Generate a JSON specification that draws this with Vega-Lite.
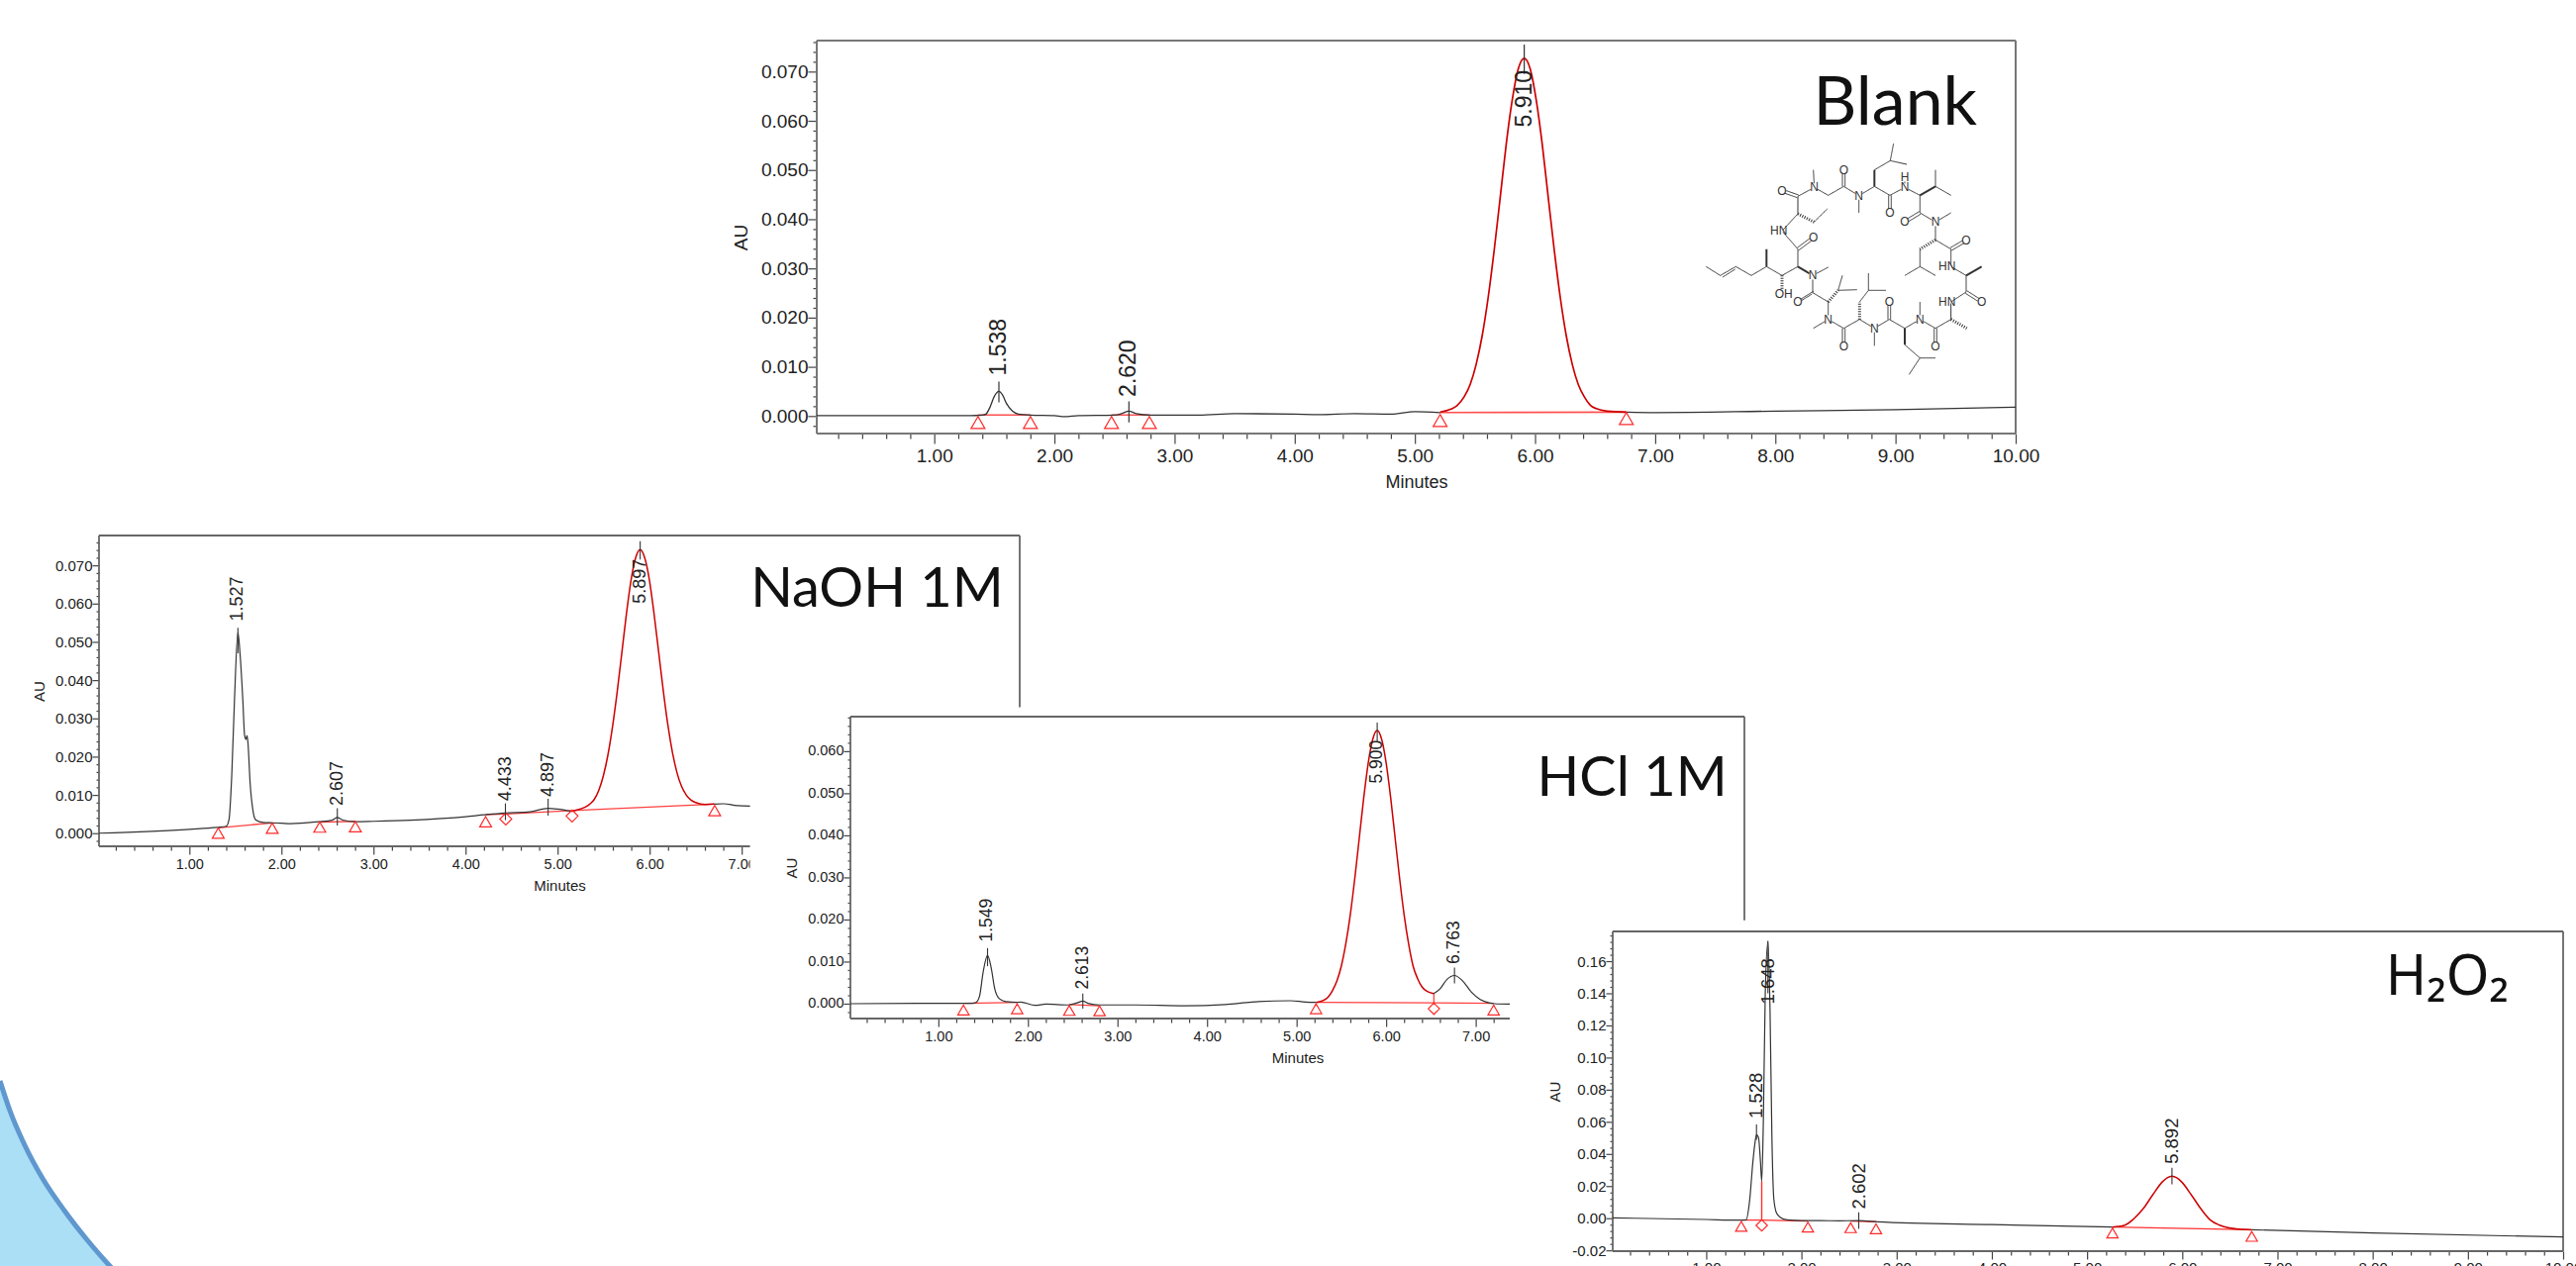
{
"$schema":"https://vega.github.io/schema/vega-lite/v6.json",
"width":2602,"height":1279,"padding":0,"autosize":{"type":"none"},"background":"white",
"config":{"view":{"stroke":null},"axis":{"grid":false,"domain":false,"labelFont":"Liberation Sans","titleFont":"Liberation Sans","titleFontWeight":"normal","labelColor":"#222","titleColor":"#222","tickColor":"#444","tickWidth":1.2,"labelOverlap":false,"labelBound":false,"labelFlush":false,"tickRound":false}},
"datasets":{
"blob":[{"bx":0,"by":1092,"bb":1300},{"bx":10,"by":1122,"bb":1300},{"bx":25,"by":1157,"bb":1300},{"bx":43.3,"by":1191,"bb":1300},{"bx":65,"by":1223,"bb":1300},{"bx":88.3,"by":1253,"bb":1300},{"bx":110,"by":1278,"bb":1300},{"bx":122,"by":1291,"bb":1300}],
"blank_frame":[{"t":0.022,"t2":10,"au":0.0763,"au2":0.0763},{"t":10,"t2":10,"au":0.0763,"au2":-0.00356},{"t":0.022,"t2":10,"au":-0.00356,"au2":-0.00356},{"t":0.022,"t2":0.022,"au":0.0763,"au2":-0.00356}],
"blank_line":[{"t":0.022,"au":0.0001,"seg":"a"},{"t":1.3,"au":0.0001,"seg":"a"},{"t":1.4,"au":0.0002,"seg":"a"},{"t":1.43,"au":0.0004,"seg":"a"},{"t":1.46,"au":0.0016,"seg":"a"},{"t":1.5,"au":0.004,"seg":"a"},{"t":1.538,"au":0.005,"seg":"a"},{"t":1.57,"au":0.0042,"seg":"a"},{"t":1.6,"au":0.0026,"seg":"a"},{"t":1.65,"au":0.001,"seg":"a"},{"t":1.7,"au":0.0004,"seg":"a"},{"t":1.8,"au":0.0002,"seg":"a"},{"t":2.0,"au":0.0001,"seg":"a"},{"t":2.08,"au":-0.0001,"seg":"a"},{"t":2.2,"au":0.0001,"seg":"a"},{"t":2.5,"au":0.0002,"seg":"a"},{"t":2.56,"au":0.0005,"seg":"a"},{"t":2.62,"au":0.001,"seg":"a"},{"t":2.68,"au":0.0005,"seg":"a"},{"t":2.8,"au":0.0002,"seg":"a"},{"t":3.2,"au":0.0002,"seg":"a"},{"t":3.5,"au":0.0005,"seg":"a"},{"t":4.0,"au":0.0004,"seg":"a"},{"t":4.2,"au":0.0003,"seg":"a"},{"t":4.5,"au":0.0005,"seg":"a"},{"t":4.8,"au":0.0004,"seg":"a"},{"t":5.0,"au":0.0009,"seg":"a"},{"t":5.21,"au":0.0007,"seg":"a"},{"t":6.76,"au":0.0008,"seg":"b"},{"t":7.0,"au":0.0007,"seg":"b"},{"t":8.0,"au":0.001,"seg":"b"},{"t":9.0,"au":0.0013,"seg":"b"},{"t":10,"au":0.0018,"seg":"b"}],
"blank_red":[{"t":5.21,"au":0.0008},{"t":5.3,"au":0.0014},{"t":5.35,"au":0.0021},{"t":5.41,"au":0.0039},{"t":5.46,"au":0.0064},{"t":5.51,"au":0.0105},{"t":5.56,"au":0.0163},{"t":5.61,"au":0.0241},{"t":5.66,"au":0.0337},{"t":5.71,"au":0.0444},{"t":5.76,"au":0.0552},{"t":5.81,"au":0.0642},{"t":5.86,"au":0.0705},{"t":5.91,"au":0.0727},{"t":5.96,"au":0.0705},{"t":6.01,"au":0.0642},{"t":6.06,"au":0.0552},{"t":6.11,"au":0.0444},{"t":6.16,"au":0.0337},{"t":6.21,"au":0.0241},{"t":6.26,"au":0.0163},{"t":6.31,"au":0.0105},{"t":6.36,"au":0.0064},{"t":6.41,"au":0.0039},{"t":6.46,"au":0.0022},{"t":6.51,"au":0.0015},{"t":6.6,"au":0.001},{"t":6.76,"au":0.0008}],
"blank_base":[{"t":1.364,"au":0.0002,"seg":"a"},{"t":1.8,"au":0.0002,"seg":"a"},{"t":2.475,"au":0.0002,"seg":"b"},{"t":2.79,"au":0.0002,"seg":"b"},{"t":5.21,"au":0.0007,"seg":"c"},{"t":6.76,"au":0.0008,"seg":"c"}],
"blank_marks":[{"t":1.364,"au":-0.0013,"kind":"start"},{"t":1.8,"au":-0.0013,"kind":"start"},{"t":2.475,"au":-0.0013,"kind":"start"},{"t":2.79,"au":-0.0013,"kind":"start"},{"t":5.21,"au":-0.0009,"kind":"start"},{"t":6.76,"au":-0.0005,"kind":"start"}],
"blank_peaks":[{"t":1.538,"au":0.007,"au2":0.0028},{"t":2.62,"au":0.003,"au2":-0.0013},{"t":5.91,"au":0.0755,"au2":0.0695}],
"blank_labels":[{"t":1.538,"au":0.0082,"label":"1.538"},{"t":2.62,"au":0.0039,"label":"2.620"},{"t":5.91,"au":0.0587,"label":"5.910"}],
"blank_name":[{"t":9.68,"au":0.0592,"label":"Blank"}],
"naoh_frame":[{"t":0.018,"t2":10.02,"au":0.0778,"au2":0.0778},{"t":10.02,"t2":10.02,"au":0.0778,"au2":0.0329},{"t":0.018,"t2":7.09,"au":-0.00343,"au2":-0.00343},{"t":0.018,"t2":0.018,"au":0.0778,"au2":-0.00343}],
"naoh_mask":[{"t":7.09,"t2":7.35,"au":-0.0036,"au2":-0.0115}],
"naoh_line":[{"t":0.018,"au":0,"seg":"a"},{"t":1.0,"au":0.001,"seg":"a"},{"t":1.3,"au":0.0015,"seg":"a"},{"t":1.4,"au":0.0018,"seg":"a"},{"t":1.43,"au":0.0035,"seg":"a"},{"t":1.46,"au":0.015,"seg":"a"},{"t":1.49,"au":0.035,"seg":"a"},{"t":1.527,"au":0.0525,"seg":"a"},{"t":1.55,"au":0.047,"seg":"a"},{"t":1.58,"au":0.035,"seg":"a"},{"t":1.6,"au":0.0255,"seg":"a"},{"t":1.615,"au":0.0245,"seg":"a"},{"t":1.625,"au":0.0255,"seg":"a"},{"t":1.635,"au":0.024,"seg":"a"},{"t":1.66,"au":0.013,"seg":"a"},{"t":1.69,"au":0.006,"seg":"a"},{"t":1.72,"au":0.0035,"seg":"a"},{"t":1.8,"au":0.0028,"seg":"a"},{"t":1.9,"au":0.0027,"seg":"a"},{"t":2.0,"au":0.0026,"seg":"a"},{"t":2.1,"au":0.0025,"seg":"a"},{"t":2.4,"au":0.003,"seg":"a"},{"t":2.55,"au":0.0034,"seg":"a"},{"t":2.607,"au":0.0041,"seg":"a"},{"t":2.66,"au":0.0035,"seg":"a"},{"t":2.8,"au":0.003,"seg":"a"},{"t":3.0,"au":0.0031,"seg":"a"},{"t":3.4,"au":0.0034,"seg":"a"},{"t":4.0,"au":0.0043,"seg":"a"},{"t":4.2,"au":0.0048,"seg":"a"},{"t":4.433,"au":0.0053,"seg":"a"},{"t":4.7,"au":0.0056,"seg":"a"},{"t":4.897,"au":0.0065,"seg":"a"},{"t":5.0,"au":0.0063,"seg":"a"},{"t":5.15,"au":0.0057,"seg":"a"},{"t":6.7,"au":0.0076,"seg":"b"},{"t":6.8,"au":0.0077,"seg":"b"},{"t":6.95,"au":0.0072,"seg":"b"},{"t":7.09,"au":0.0071,"seg":"b"}],
"naoh_red":[{"t":5.15,"au":0.0057},{"t":5.2,"au":0.006},{"t":5.3,"au":0.0068},{"t":5.35,"au":0.0076},{"t":5.397,"au":0.0088},{"t":5.447,"au":0.0112},{"t":5.497,"au":0.015},{"t":5.547,"au":0.0205},{"t":5.597,"au":0.0279},{"t":5.647,"au":0.0369},{"t":5.697,"au":0.047},{"t":5.747,"au":0.0572},{"t":5.797,"au":0.066},{"t":5.847,"au":0.0719},{"t":5.897,"au":0.0741},{"t":5.947,"au":0.0719},{"t":5.997,"au":0.0662},{"t":6.047,"au":0.0575},{"t":6.097,"au":0.0475},{"t":6.147,"au":0.0374},{"t":6.197,"au":0.0284},{"t":6.247,"au":0.0212},{"t":6.297,"au":0.0158},{"t":6.347,"au":0.0122},{"t":6.397,"au":0.01},{"t":6.447,"au":0.0087},{"t":6.5,"au":0.008},{"t":6.6,"au":0.0075},{"t":6.7,"au":0.0076}],
"naoh_base":[{"t":1.313,"au":0.0014,"seg":"a"},{"t":1.9,"au":0.0027,"seg":"a"},{"t":2.416,"au":0.0029,"seg":"b"},{"t":2.803,"au":0.0031,"seg":"b"},{"t":4.218,"au":0.0048,"seg":"c"},{"t":4.437,"au":0.005,"seg":"c"},{"t":5.157,"au":0.0059,"seg":"c"},{"t":6.706,"au":0.0076,"seg":"c"}],
"naoh_marks":[{"t":1.313,"au":0,"kind":"start"},{"t":1.9,"au":0.0013,"kind":"start"},{"t":2.416,"au":0.0016,"kind":"start"},{"t":2.803,"au":0.0017,"kind":"start"},{"t":4.218,"au":0.003,"kind":"start"},{"t":4.437,"au":0.0037,"kind":"valley"},{"t":5.157,"au":0.0045,"kind":"valley"},{"t":6.706,"au":0.0059,"kind":"start"}],
"naoh_peaks":[{"t":1.527,"au":0.0537,"au2":0.047},{"t":2.607,"au":0.0065,"au2":0.002},{"t":4.433,"au":0.0078,"au2":0.0034},{"t":4.897,"au":0.009,"au2":0.0046},{"t":5.897,"au":0.0763,"au2":0.0715}],
"naoh_labels":[{"t":1.527,"au":0.0554,"label":"1.527"},{"t":2.607,"au":0.0072,"label":"2.607"},{"t":4.433,"au":0.0084,"label":"4.433"},{"t":4.897,"au":0.0095,"label":"4.897"},{"t":5.897,"au":0.06,"label":"5.897"}],
"naoh_name":[{"t":9.845,"au":0.0591,"label":"NaOH 1M"}],
"hcl_frame":[{"t":0.018,"t2":10,"au":0.0682,"au2":0.0682},{"t":10,"t2":10,"au":0.0682,"au2":0.0198},{"t":0.018,"t2":7.38,"au":-0.00353,"au2":-0.00353},{"t":0.018,"t2":0.018,"au":0.0682,"au2":-0.00353}],
"hcl_line":[{"t":0.018,"au":0,"seg":"a"},{"t":1.0,"au":0.0001,"seg":"a"},{"t":1.38,"au":0.0001,"seg":"a"},{"t":1.42,"au":0.0003,"seg":"a"},{"t":1.46,"au":0.0018,"seg":"a"},{"t":1.5,"au":0.0075,"seg":"a"},{"t":1.549,"au":0.0115,"seg":"a"},{"t":1.59,"au":0.0085,"seg":"a"},{"t":1.63,"au":0.0035,"seg":"a"},{"t":1.68,"au":0.0012,"seg":"a"},{"t":1.75,"au":0.0005,"seg":"a"},{"t":1.88,"au":0.0003,"seg":"a"},{"t":1.92,"au":0.0004,"seg":"a"},{"t":2.08,"au":-0.0004,"seg":"a"},{"t":2.2,"au":-0.0001,"seg":"a"},{"t":2.45,"au":-0.0003,"seg":"a"},{"t":2.55,"au":0.0002,"seg":"a"},{"t":2.613,"au":0.0006,"seg":"a"},{"t":2.67,"au":0.0001,"seg":"a"},{"t":2.8,"au":-0.0003,"seg":"a"},{"t":3.2,"au":-0.0003,"seg":"a"},{"t":3.75,"au":-0.0005,"seg":"a"},{"t":4.2,"au":-0.0002,"seg":"a"},{"t":4.5,"au":0.0004,"seg":"a"},{"t":4.93,"au":0.0007,"seg":"a"},{"t":5.1,"au":0.0004,"seg":"a"},{"t":5.22,"au":0.0003,"seg":"a"},{"t":6.53,"au":0.0024,"seg":"b"},{"t":6.6,"au":0.0035,"seg":"b"},{"t":6.68,"au":0.0058,"seg":"b"},{"t":6.763,"au":0.0067,"seg":"b"},{"t":6.85,"au":0.0055,"seg":"b"},{"t":6.95,"au":0.0028,"seg":"b"},{"t":7.05,"au":0.001,"seg":"b"},{"t":7.15,"au":0.0002,"seg":"b"},{"t":7.21,"au":0,"seg":"b"},{"t":7.38,"au":-0.0001,"seg":"b"}],
"hcl_red":[{"t":5.22,"au":0.0003},{"t":5.3,"au":0.0008},{"t":5.35,"au":0.0015},{"t":5.4,"au":0.0031},{"t":5.45,"au":0.0054},{"t":5.5,"au":0.009},{"t":5.55,"au":0.0143},{"t":5.6,"au":0.0212},{"t":5.65,"au":0.0298},{"t":5.7,"au":0.0394},{"t":5.75,"au":0.049},{"t":5.8,"au":0.0572},{"t":5.85,"au":0.0628},{"t":5.9,"au":0.0649},{"t":5.95,"au":0.0628},{"t":6.0,"au":0.0572},{"t":6.05,"au":0.049},{"t":6.1,"au":0.0394},{"t":6.15,"au":0.0298},{"t":6.2,"au":0.0212},{"t":6.25,"au":0.0143},{"t":6.3,"au":0.009},{"t":6.35,"au":0.006},{"t":6.4,"au":0.004},{"t":6.45,"au":0.003},{"t":6.53,"au":0.0024}],
"hcl_base":[{"t":1.28,"au":0.0001,"seg":"a"},{"t":1.88,"au":0.0003,"seg":"a"},{"t":2.462,"au":-0.0002,"seg":"b"},{"t":2.8,"au":-0.0005,"seg":"b"},{"t":5.217,"au":0.0003,"seg":"c"},{"t":6.533,"au":0.0002,"seg":"c"},{"t":7.2,"au":0.0001,"seg":"c"},{"t":6.533,"au":0.0002,"seg":"d"},{"t":6.533,"au":0.0024,"seg":"d"}],
"hcl_marks":[{"t":1.28,"au":-0.0015,"kind":"start"},{"t":1.88,"au":-0.0012,"kind":"start"},{"t":2.462,"au":-0.0016,"kind":"start"},{"t":2.8,"au":-0.0017,"kind":"start"},{"t":5.217,"au":-0.0012,"kind":"start"},{"t":6.533,"au":-0.0012,"kind":"valley"},{"t":7.2,"au":-0.0015,"kind":"start"}],
"hcl_peaks":[{"t":1.549,"au":0.0132,"au2":0.0089},{"t":2.613,"au":0.0024,"au2":-0.0012},{"t":5.9,"au":0.0668,"au2":0.0621},{"t":6.763,"au":0.0086,"au2":0.0048}],
"hcl_labels":[{"t":1.549,"au":0.0147,"label":"1.549"},{"t":2.613,"au":0.0034,"label":"2.613"},{"t":5.9,"au":0.0523,"label":"5.900"},{"t":6.763,"au":0.0094,"label":"6.763"}],
"hcl_name":[{"t":9.81,"au":0.0494,"label":"HCl 1M"}],
"h2o2_frame":[{"t":0.018,"t2":10,"au":0.1785,"au2":0.1785},{"t":10,"t2":10,"au":0.1785,"au2":-0.0205},{"t":0.018,"t2":10,"au":-0.0205,"au2":-0.0205},{"t":0.018,"t2":0.018,"au":0.1785,"au2":-0.0205}],
"h2o2_line":[{"t":0.018,"au":0.0002,"seg":"a"},{"t":1.0,"au":-0.0008,"seg":"a"},{"t":1.33,"au":-0.0012,"seg":"a"},{"t":1.419,"au":-0.001,"seg":"a"},{"t":1.456,"au":0.011,"seg":"a"},{"t":1.49,"au":0.035,"seg":"a"},{"t":1.51,"au":0.046,"seg":"a"},{"t":1.528,"au":0.052,"seg":"a"},{"t":1.55,"au":0.05,"seg":"a"},{"t":1.57,"au":0.035,"seg":"a"},{"t":1.583,"au":0.023,"seg":"a"},{"t":1.6,"au":0.06,"seg":"a"},{"t":1.62,"au":0.14,"seg":"a"},{"t":1.648,"au":0.172,"seg":"a"},{"t":1.67,"au":0.13,"seg":"a"},{"t":1.69,"au":0.05,"seg":"a"},{"t":1.71,"au":0.012,"seg":"a"},{"t":1.74,"au":0.003,"seg":"a"},{"t":1.78,"au":0.0005,"seg":"a"},{"t":1.85,"au":-0.001,"seg":"a"},{"t":2.0,"au":-0.0015,"seg":"a"},{"t":2.2,"au":-0.0015,"seg":"a"},{"t":2.4,"au":-0.0016,"seg":"a"},{"t":2.602,"au":-0.0015,"seg":"a"},{"t":2.8,"au":-0.0022,"seg":"a"},{"t":4.0,"au":-0.004,"seg":"a"},{"t":5.0,"au":-0.0052,"seg":"a"},{"t":5.267,"au":-0.0055,"seg":"a"},{"t":6.73,"au":-0.0072,"seg":"b"},{"t":8.0,"au":-0.0092,"seg":"b"},{"t":10,"au":-0.0117,"seg":"b"}],
"h2o2_red":[{"t":5.267,"au":-0.0055},{"t":5.39,"au":-0.0045},{"t":5.492,"au":-0.0003},{"t":5.592,"au":0.0061},{"t":5.692,"au":0.0148},{"t":5.792,"au":0.0227},{"t":5.842,"au":0.0252},{"t":5.892,"au":0.0262},{"t":5.942,"au":0.0252},{"t":5.992,"au":0.0227},{"t":6.092,"au":0.0148},{"t":6.192,"au":0.0061},{"t":6.292,"au":-0.001},{"t":6.392,"au":-0.0043},{"t":6.492,"au":-0.006},{"t":6.6,"au":-0.0068},{"t":6.73,"au":-0.0072}],
"h2o2_base":[{"t":1.368,"au":-0.0012,"seg":"a"},{"t":1.583,"au":-0.0012,"seg":"a"},{"t":2.068,"au":-0.0018,"seg":"a"},{"t":1.583,"au":-0.0012,"seg":"d"},{"t":1.583,"au":0.023,"seg":"d"},{"t":2.517,"au":-0.0018,"seg":"b"},{"t":2.783,"au":-0.0022,"seg":"b"},{"t":5.267,"au":-0.0055,"seg":"c"},{"t":6.73,"au":-0.0072,"seg":"c"}],
"h2o2_marks":[{"t":1.368,"au":-0.0051,"kind":"start"},{"t":1.583,"au":-0.0045,"kind":"valley"},{"t":2.068,"au":-0.0055,"kind":"start"},{"t":2.517,"au":-0.0059,"kind":"start"},{"t":2.783,"au":-0.0066,"kind":"start"},{"t":5.267,"au":-0.0092,"kind":"start"},{"t":6.73,"au":-0.0113,"kind":"start"}],
"h2o2_peaks":[{"t":1.528,"au":0.0584,"au2":0.0488},{"t":1.648,"au":0.1727,"au2":0.14},{"t":2.602,"au":0.0037,"au2":-0.0066},{"t":5.892,"au":0.0314,"au2":0.0211}],
"h2o2_labels":[{"t":1.528,"au":0.0621,"label":"1.528"},{"t":1.648,"au":0.1332,"label":"1.648"},{"t":2.602,"au":0.0057,"label":"2.602"},{"t":5.892,"au":0.0338,"label":"5.892"}],
"h2o2_name":[{"t":9.43,"au":0.139,"label":"H₂O₂"}],
"bonds":[
{"x":398,"y":178,"x2":395,"y2":125,"kind":"single"},{"x":398,"y":178,"x2":440,"y2":202,"kind":"single"},{"x":440,"y":202,"x2":487,"y2":175,"kind":"single"},{"x":483,"y":175,"x2":483,"y2":125,"kind":"single"},{"x":491,"y":175,"x2":491,"y2":125,"kind":"single"},{"x":487,"y":175,"x2":533,"y2":203,"kind":"single"},{"x":533,"y":203,"x2":533,"y2":255,"kind":"single"},{"x":533,"y":203,"x2":580,"y2":175,"kind":"single"},{"x":580,"y":175,"x2":580,"y2":125,"kind":"bold"},{"x":580,"y":125,"x2":628,"y2":97,"kind":"single"},{"x":628,"y":97,"x2":638,"y2":45,"kind":"single"},{"x":628,"y":97,"x2":678,"y2":108,"kind":"single"},{"x":580,"y":175,"x2":627,"y2":202,"kind":"single"},{"x":623,"y":202,"x2":623,"y2":255,"kind":"single"},{"x":631,"y":202,"x2":631,"y2":255,"kind":"single"},{"x":627,"y":202,"x2":672,"y2":178,"kind":"single"},{"x":672,"y":178,"x2":672,"y2":148,"kind":"single"},{"x":672,"y":178,"x2":718,"y2":202,"kind":"single"},{"x":718,"y":202,"x2":765,"y2":175,"kind":"bold"},{"x":765,"y":175,"x2":765,"y2":125,"kind":"single"},{"x":765,"y":175,"x2":812,"y2":202,"kind":"single"},{"x":718,"y":202,"x2":718,"y2":255,"kind":"single"},{"x":716,"y":251,"x2":670,"y2":279,"kind":"single"},{"x":720,"y":259,"x2":674,"y2":287,"kind":"single"},{"x":718,"y":255,"x2":765,"y2":283,"kind":"single"},{"x":765,"y":283,"x2":812,"y2":255,"kind":"single"},{"x":765,"y":283,"x2":765,"y2":337,"kind":"single"},{"x":765,"y":337,"x2":718,"y2":365,"kind":"hash"},{"x":718,"y":365,"x2":718,"y2":418,"kind":"single"},{"x":718,"y":418,"x2":672,"y2":445,"kind":"single"},{"x":718,"y":418,"x2":765,"y2":445,"kind":"single"},{"x":765,"y":337,"x2":812,"y2":365,"kind":"single"},{"x":810,"y":361,"x2":856,"y2":334,"kind":"single"},{"x":814,"y":369,"x2":860,"y2":342,"kind":"single"},{"x":812,"y":365,"x2":812,"y2":418,"kind":"single"},{"x":812,"y":418,"x2":858,"y2":445,"kind":"single"},{"x":858,"y":445,"x2":905,"y2":418,"kind":"bold"},{"x":858,"y":445,"x2":858,"y2":495,"kind":"single"},{"x":860,"y":491,"x2":907,"y2":521,"kind":"single"},{"x":856,"y":499,"x2":903,"y2":529,"kind":"single"},{"x":858,"y":495,"x2":812,"y2":525,"kind":"single"},{"x":812,"y":525,"x2":812,"y2":578,"kind":"single"},{"x":812,"y":578,"x2":860,"y2":605,"kind":"hash"},{"x":812,"y":578,"x2":765,"y2":605,"kind":"single"},{"x":761,"y":605,"x2":761,"y2":660,"kind":"single"},{"x":769,"y":605,"x2":769,"y2":660,"kind":"single"},{"x":765,"y":605,"x2":718,"y2":578,"kind":"single"},{"x":718,"y":578,"x2":718,"y2":525,"kind":"single"},{"x":718,"y":578,"x2":672,"y2":605,"kind":"single"},{"x":672,"y":605,"x2":672,"y2":655,"kind":"bold"},{"x":672,"y":655,"x2":718,"y2":695,"kind":"single"},{"x":718,"y":695,"x2":765,"y2":695,"kind":"single"},{"x":718,"y":695,"x2":685,"y2":745,"kind":"single"},{"x":672,"y":605,"x2":625,"y2":578,"kind":"single"},{"x":621,"y":578,"x2":621,"y2":525,"kind":"single"},{"x":629,"y":578,"x2":629,"y2":525,"kind":"single"},{"x":625,"y":578,"x2":580,"y2":605,"kind":"single"},{"x":580,"y":605,"x2":580,"y2":658,"kind":"single"},{"x":580,"y":605,"x2":535,"y2":578,"kind":"single"},{"x":535,"y":578,"x2":535,"y2":525,"kind":"hash"},{"x":535,"y":525,"x2":562,"y2":490,"kind":"single"},{"x":562,"y":490,"x2":562,"y2":438,"kind":"single"},{"x":562,"y":490,"x2":615,"y2":490,"kind":"single"},{"x":535,"y":578,"x2":487,"y2":605,"kind":"single"},{"x":483,"y":605,"x2":483,"y2":660,"kind":"single"},{"x":491,"y":605,"x2":491,"y2":660,"kind":"single"},{"x":487,"y":605,"x2":440,"y2":578,"kind":"single"},{"x":440,"y":578,"x2":395,"y2":605,"kind":"single"},{"x":440,"y":578,"x2":440,"y2":525,"kind":"single"},{"x":440,"y":525,"x2":470,"y2":490,"kind":"hash"},{"x":470,"y":490,"x2":483,"y2":445,"kind":"single"},{"x":470,"y":490,"x2":527,"y2":488,"kind":"single"},{"x":440,"y":525,"x2":393,"y2":497,"kind":"single"},{"x":395,"y":493,"x2":350,"y2":521,"kind":"single"},{"x":391,"y":501,"x2":346,"y2":529,"kind":"single"},{"x":393,"y":497,"x2":393,"y2":445,"kind":"single"},{"x":393,"y":445,"x2":440,"y2":420,"kind":"single"},{"x":393,"y":445,"x2":348,"y2":418,"kind":"bold"},{"x":348,"y":418,"x2":300,"y2":445,"kind":"single"},{"x":300,"y":445,"x2":300,"y2":497,"kind":"hash"},{"x":300,"y":445,"x2":253,"y2":418,"kind":"single"},{"x":253,"y":418,"x2":253,"y2":365,"kind":"bold"},{"x":253,"y":418,"x2":207,"y2":445,"kind":"single"},{"x":207,"y":445,"x2":160,"y2":418,"kind":"single"},{"x":160,"y":418,"x2":113,"y2":445,"kind":"single"},{"x":158,"y":426,"x2":120,"y2":450,"kind":"single"},{"x":113,"y":445,"x2":70,"y2":418,"kind":"single"},{"x":348,"y":418,"x2":348,"y2":365,"kind":"single"},{"x":346,"y":361,"x2":393,"y2":326,"kind":"single"},{"x":350,"y":369,"x2":397,"y2":334,"kind":"single"},{"x":348,"y":365,"x2":300,"y2":310,"kind":"single"},{"x":300,"y":310,"x2":348,"y2":258,"kind":"single"},{"x":348,"y":258,"x2":397,"y2":283,"kind":"hash"},{"x":397,"y":283,"x2":437,"y2":243,"kind":"single"},{"x":348,"y":258,"x2":348,"y2":205,"kind":"single"},{"x":346,"y":209,"x2":298,"y2":192,"kind":"single"},{"x":350,"y":201,"x2":302,"y2":184,"kind":"single"},{"x":348,"y":205,"x2":398,"y2":178,"kind":"single"}],
"atoms":[{"x":398,"y":178,"atom":"N"},{"x":533,"y":203,"atom":"N"},{"x":672,"y":178,"atom":"N"},{"x":672,"y":148,"atom":"H"},{"x":765,"y":283,"atom":"N"},{"x":800,"y":418,"atom":"HN"},{"x":800,"y":525,"atom":"HN"},{"x":718,"y":578,"atom":"N"},{"x":580,"y":605,"atom":"N"},{"x":440,"y":578,"atom":"N"},{"x":393,"y":445,"atom":"N"},{"x":305,"y":500,"atom":"OH"},{"x":290,"y":310,"atom":"HN"},{"x":487,"y":125,"atom":"O"},{"x":627,"y":255,"atom":"O"},{"x":672,"y":283,"atom":"O"},{"x":858,"y":338,"atom":"O"},{"x":905,"y":525,"atom":"O"},{"x":765,"y":660,"atom":"O"},{"x":625,"y":525,"atom":"O"},{"x":487,"y":660,"atom":"O"},{"x":348,"y":525,"atom":"O"},{"x":395,"y":330,"atom":"O"},{"x":300,"y":188,"atom":"O"}]
},
"resolve":{"scale":{"x":"independent","y":"independent"},"axis":{"x":"independent","y":"independent"}},
"layer":[
{"encoding":{"x":{"field":"bx","type":"quantitative","axis":null,"scale":{"domain":[0,200],"range":[0,200]}},"y":{"field":"by","type":"quantitative","axis":null,"scale":{"domain":[1060,1279],"range":[1060,1279]}}},
"layer":[
{"data":{"name":"blob"},"mark":{"type":"area","color":"#ABDFF5","interpolate":"monotone"},"encoding":{"y2":{"field":"bb"}}},
{"data":{"name":"blob"},"mark":{"type":"line","color":"#5F97CF","strokeWidth":5,"interpolate":"monotone"},"encoding":{}}
]},
{"encoding":{
"x":{"field":"t","type":"quantitative","scale":{"domain":[0.022,10],"range":[825,2036]},"axis":{"orient":"bottom","offset":-841,"title":"Minutes","titleFontSize":18,"titlePadding":8,"labelFontSize":19,"labelPadding":3,"values":[0.2,0.4,0.6,0.8,1,1.2,1.4,1.6,1.8,2,2.2,2.4,2.6,2.8,3,3.2,3.4,3.6,3.8,4,4.2,4.4,4.6,4.8,5,5.2,5.4,5.6,5.8,6,6.2,6.4,6.6,6.8,7,7.2,7.4,7.6,7.8,8,8.2,8.4,8.6,8.8,9,9.2,9.4,9.6,9.8,10],"tickSize":{"condition":{"test":"abs(datum.value-round(datum.value))<0.001","value":10},"value":5},"labelExpr":"abs(datum.value-round(datum.value))<0.001 ? format(datum.value,'.2f') : ''"}},
"y":{"field":"au","type":"quantitative","scale":{"domain":[-0.00356,0.0763],"range":[438,41]},"axis":{"orient":"left","offset":-825,"title":"AU","titleFontSize":19,"titlePadding":10,"labelFontSize":19,"labelPadding":0,"values":[-0.002,0,0.002,0.004,0.006,0.008,0.01,0.012,0.014,0.016,0.018,0.02,0.022,0.024,0.026,0.028,0.03,0.032,0.034,0.036,0.038,0.04,0.042,0.044,0.046,0.048,0.05,0.052,0.054,0.056,0.058,0.06,0.062,0.064,0.066,0.068,0.07,0.072,0.074,0.076],"tickSize":{"condition":{"test":"abs(datum.value*100-round(datum.value*100))<0.001","value":9},"value":4},"labelExpr":"abs(datum.value*100-round(datum.value*100))<0.001 ? format(datum.value,'.3f') : ''"}}},
"layer":[
{"data":{"name":"blank_frame"},"mark":{"type":"rule","color":"#777","strokeWidth":2},"encoding":{"x2":{"field":"t2"},"y2":{"field":"au2"}}},
{"data":{"name":"blank_base"},"mark":{"type":"line","color":"#ff5050","strokeWidth":1.6},"encoding":{"detail":{"field":"seg"}}},
{"data":{"name":"blank_line"},"mark":{"type":"line","color":"#333","strokeWidth":1.3,"interpolate":"monotone"},"encoding":{"detail":{"field":"seg"}}},
{"data":{"name":"blank_red"},"mark":{"type":"line","color":"#cc0000","strokeWidth":1.7,"interpolate":"monotone"},"encoding":{}},
{"data":{"name":"blank_marks"},"mark":{"type":"point","filled":false,"stroke":"#ff2a2a","strokeWidth":1.2,"size":196,"opacity":1},"encoding":{"shape":{"field":"kind","type":"nominal","legend":null,"scale":{"domain":["start","valley"],"range":["triangle-up","diamond"]}}}},
{"data":{"name":"blank_peaks"},"mark":{"type":"rule","color":"#333","strokeWidth":1.2},"encoding":{"y2":{"field":"au2"}}},
{"data":{"name":"blank_labels"},"mark":{"type":"text","angle":270,"align":"left","baseline":"middle","font":"Liberation Sans","fontSize":23,"color":"#222"},"encoding":{"text":{"field":"label"}}},
{"data":{"name":"blank_name"},"mark":{"type":"text","align":"right","baseline":"alphabetic","font":"Lato","fontSize":68,"color":"#111"},"encoding":{"text":{"field":"label"}}}
]},
{"encoding":{"x":{"field":"x","type":"quantitative","axis":null,"scale":{"domain":[0,1020],"range":[1700,2040]}},"y":{"field":"y","type":"quantitative","axis":null,"scale":{"domain":[0,810],"range":[130,400]}}},
"layer":[
{"data":{"name":"bonds"},"mark":{"type":"rule","color":"#333"},"encoding":{"x2":{"field":"x2"},"y2":{"field":"y2"},"strokeWidth":{"field":"kind","type":"nominal","legend":null,"scale":{"domain":["single","bold","hash"],"range":[1,3,3]}},"strokeDash":{"field":"kind","type":"nominal","legend":null,"scale":{"domain":["single","bold","hash"],"range":[[1,0],[1,0],[1,1.5]]}}}},
{"data":{"name":"atoms"},"mark":{"type":"point","filled":true,"color":"white","size":70,"opacity":1},"encoding":{}},
{"data":{"name":"atoms"},"mark":{"type":"text","font":"Liberation Sans","fontSize":12,"color":"#333","align":"center","baseline":"middle"},"encoding":{"text":{"field":"atom"}}}
]},
{"encoding":{
"x":{"field":"t","type":"quantitative","scale":{"domain":[0.018,10.02],"range":[100,1030]},"axis":{"orient":"bottom","offset":-424,"title":"Minutes","titleFontSize":15,"titlePadding":8,"labelFontSize":14.5,"labelPadding":3,"values":[0.2,0.4,0.6,0.8,1,1.2,1.4,1.6,1.8,2,2.2,2.4,2.6,2.8,3,3.2,3.4,3.6,3.8,4,4.2,4.4,4.6,4.8,5,5.2,5.4,5.6,5.8,6,6.2,6.4,6.6,6.8,7],"tickSize":{"condition":{"test":"abs(datum.value-round(datum.value))<0.001","value":8},"value":4},"labelExpr":"abs(datum.value-round(datum.value))<0.001 ? format(datum.value,'.2f') : ''"}},
"y":{"field":"au","type":"quantitative","scale":{"domain":[-0.00343,0.0778],"range":[855,541]},"axis":{"orient":"left","offset":-100,"title":"AU","titleFontSize":15,"titlePadding":8,"labelFontSize":15,"labelPadding":0,"values":[-0.002,0,0.002,0.004,0.006,0.008,0.01,0.012,0.014,0.016,0.018,0.02,0.022,0.024,0.026,0.028,0.03,0.032,0.034,0.036,0.038,0.04,0.042,0.044,0.046,0.048,0.05,0.052,0.054,0.056,0.058,0.06,0.062,0.064,0.066,0.068,0.07,0.072,0.074,0.076],"tickSize":{"condition":{"test":"abs(datum.value*100-round(datum.value*100))<0.001","value":7},"value":3},"labelExpr":"abs(datum.value*100-round(datum.value*100))<0.001 ? format(datum.value,'.3f') : ''"}}},
"layer":[
{"data":{"name":"naoh_mask"},"mark":{"type":"rect","color":"white"},"encoding":{"x2":{"field":"t2"},"y2":{"field":"au2"}}},
{"data":{"name":"naoh_frame"},"mark":{"type":"rule","color":"#666","strokeWidth":1.8},"encoding":{"x2":{"field":"t2"},"y2":{"field":"au2"}}},
{"data":{"name":"naoh_base"},"mark":{"type":"line","color":"#ff4040","strokeWidth":1.3},"encoding":{"detail":{"field":"seg"}}},
{"data":{"name":"naoh_line"},"mark":{"type":"line","color":"#333","strokeWidth":1.2,"interpolate":"monotone"},"encoding":{"detail":{"field":"seg"}}},
{"data":{"name":"naoh_red"},"mark":{"type":"line","color":"#cc0000","strokeWidth":1.5,"interpolate":"monotone"},"encoding":{}},
{"data":{"name":"naoh_marks"},"mark":{"type":"point","filled":false,"stroke":"#ff2a2a","strokeWidth":1.2,"size":144,"opacity":1},"encoding":{"shape":{"field":"kind","type":"nominal","legend":null,"scale":{"domain":["start","valley"],"range":["triangle-up","diamond"]}}}},
{"data":{"name":"naoh_peaks"},"mark":{"type":"rule","color":"#333","strokeWidth":1.1},"encoding":{"y2":{"field":"au2"}}},
{"data":{"name":"naoh_labels"},"mark":{"type":"text","angle":270,"align":"left","baseline":"middle","font":"Liberation Sans","fontSize":18,"color":"#222"},"encoding":{"text":{"field":"label"}}},
{"data":{"name":"naoh_name"},"mark":{"type":"text","align":"right","baseline":"alphabetic","font":"Lato","fontSize":56,"color":"#111"},"encoding":{"text":{"field":"label"}}}
]},
{"encoding":{
"x":{"field":"t","type":"quantitative","scale":{"domain":[0.018,10],"range":[859,1762]},"axis":{"orient":"bottom","offset":-250,"title":"Minutes","titleFontSize":15,"titlePadding":8,"labelFontSize":14.5,"labelPadding":3,"values":[0.2,0.4,0.6,0.8,1,1.2,1.4,1.6,1.8,2,2.2,2.4,2.6,2.8,3,3.2,3.4,3.6,3.8,4,4.2,4.4,4.6,4.8,5,5.2,5.4,5.6,5.8,6,6.2,6.4,6.6,6.8,7,7.2],"tickSize":{"condition":{"test":"abs(datum.value-round(datum.value))<0.001","value":8},"value":4},"labelExpr":"abs(datum.value-round(datum.value))<0.001 ? format(datum.value,'.2f') : ''"}},
"y":{"field":"au","type":"quantitative","scale":{"domain":[-0.00353,0.0682],"range":[1029,724]},"axis":{"orient":"left","offset":-859,"title":"AU","titleFontSize":15,"titlePadding":8,"labelFontSize":14.5,"labelPadding":0,"values":[-0.002,0,0.002,0.004,0.006,0.008,0.01,0.012,0.014,0.016,0.018,0.02,0.022,0.024,0.026,0.028,0.03,0.032,0.034,0.036,0.038,0.04,0.042,0.044,0.046,0.048,0.05,0.052,0.054,0.056,0.058,0.06,0.062,0.064,0.066,0.068],"tickSize":{"condition":{"test":"abs(datum.value*100-round(datum.value*100))<0.001","value":7},"value":3},"labelExpr":"abs(datum.value*100-round(datum.value*100))<0.001 ? format(datum.value,'.3f') : ''"}}},
"layer":[
{"data":{"name":"hcl_frame"},"mark":{"type":"rule","color":"#666","strokeWidth":1.8},"encoding":{"x2":{"field":"t2"},"y2":{"field":"au2"}}},
{"data":{"name":"hcl_base"},"mark":{"type":"line","color":"#ff4040","strokeWidth":1.3},"encoding":{"detail":{"field":"seg"}}},
{"data":{"name":"hcl_line"},"mark":{"type":"line","color":"#333","strokeWidth":1.2,"interpolate":"monotone"},"encoding":{"detail":{"field":"seg"}}},
{"data":{"name":"hcl_red"},"mark":{"type":"line","color":"#cc0000","strokeWidth":1.5,"interpolate":"monotone"},"encoding":{}},
{"data":{"name":"hcl_marks"},"mark":{"type":"point","filled":false,"stroke":"#ff2a2a","strokeWidth":1.2,"size":130,"opacity":1},"encoding":{"shape":{"field":"kind","type":"nominal","legend":null,"scale":{"domain":["start","valley"],"range":["triangle-up","diamond"]}}}},
{"data":{"name":"hcl_peaks"},"mark":{"type":"rule","color":"#333","strokeWidth":1.1},"encoding":{"y2":{"field":"au2"}}},
{"data":{"name":"hcl_labels"},"mark":{"type":"text","angle":270,"align":"left","baseline":"middle","font":"Liberation Sans","fontSize":17.5,"color":"#222"},"encoding":{"text":{"field":"label"}}},
{"data":{"name":"hcl_name"},"mark":{"type":"text","align":"right","baseline":"alphabetic","font":"Lato","fontSize":56,"color":"#111"},"encoding":{"text":{"field":"label"}}}
]},
{"encoding":{
"x":{"field":"t","type":"quantitative","scale":{"domain":[0.018,10],"range":[1629,2589]},"axis":{"orient":"bottom","offset":-15,"title":"Minutes","titleFontSize":15,"titlePadding":8,"labelFontSize":15,"labelPadding":1,"values":[0.2,0.4,0.6,0.8,1,1.2,1.4,1.6,1.8,2,2.2,2.4,2.6,2.8,3,3.2,3.4,3.6,3.8,4,4.2,4.4,4.6,4.8,5,5.2,5.4,5.6,5.8,6,6.2,6.4,6.6,6.8,7,7.2,7.4,7.6,7.8,8,8.2,8.4,8.6,8.8,9,9.2,9.4,9.6,9.8,10],"tickSize":{"condition":{"test":"abs(datum.value-round(datum.value))<0.001","value":8},"value":4},"labelExpr":"abs(datum.value-round(datum.value))<0.001 ? format(datum.value,'.2f') : ''"}},
"y":{"field":"au","type":"quantitative","scale":{"domain":[-0.0205,0.1785],"range":[1264,941]},"axis":{"orient":"left","offset":-1629,"title":"AU","titleFontSize":15,"titlePadding":9,"labelFontSize":15,"labelPadding":0,"values":[-0.02,-0.016,-0.012,-0.008,-0.004,0,0.004,0.008,0.012,0.016,0.02,0.024,0.028,0.032,0.036,0.04,0.044,0.048,0.052,0.056,0.06,0.064,0.068,0.072,0.076,0.08,0.084,0.088,0.092,0.096,0.1,0.104,0.108,0.112,0.116,0.12,0.124,0.128,0.132,0.136,0.14,0.144,0.148,0.152,0.156,0.16,0.164,0.168,0.172,0.176],"tickSize":{"condition":{"test":"abs(datum.value*50-round(datum.value*50))<0.001","value":7},"value":3},"labelExpr":"abs(datum.value*50-round(datum.value*50))<0.001 ? replace(format(datum.value,'.2f'),'−','-') : ''"}}},
"layer":[
{"data":{"name":"h2o2_frame"},"mark":{"type":"rule","color":"#666","strokeWidth":1.8},"encoding":{"x2":{"field":"t2"},"y2":{"field":"au2"}}},
{"data":{"name":"h2o2_base"},"mark":{"type":"line","color":"#ff3030","strokeWidth":1.4},"encoding":{"detail":{"field":"seg"}}},
{"data":{"name":"h2o2_line"},"mark":{"type":"line","color":"#333","strokeWidth":1.2,"interpolate":"monotone"},"encoding":{"detail":{"field":"seg"}}},
{"data":{"name":"h2o2_red"},"mark":{"type":"line","color":"#cc0000","strokeWidth":1.5,"interpolate":"monotone"},"encoding":{}},
{"data":{"name":"h2o2_marks"},"mark":{"type":"point","filled":false,"stroke":"#ff2a2a","strokeWidth":1.2,"size":130,"opacity":1},"encoding":{"shape":{"field":"kind","type":"nominal","legend":null,"scale":{"domain":["start","valley"],"range":["triangle-up","diamond"]}}}},
{"data":{"name":"h2o2_peaks"},"mark":{"type":"rule","color":"#333","strokeWidth":1.1},"encoding":{"y2":{"field":"au2"}}},
{"data":{"name":"h2o2_labels"},"mark":{"type":"text","angle":270,"align":"left","baseline":"middle","font":"Liberation Sans","fontSize":18.5,"color":"#222"},"encoding":{"text":{"field":"label"}}},
{"data":{"name":"h2o2_name"},"mark":{"type":"text","align":"right","baseline":"alphabetic","font":"Noto Sans","fontSize":56,"color":"#111"},"encoding":{"text":{"field":"label"}}}
]}
]
}
